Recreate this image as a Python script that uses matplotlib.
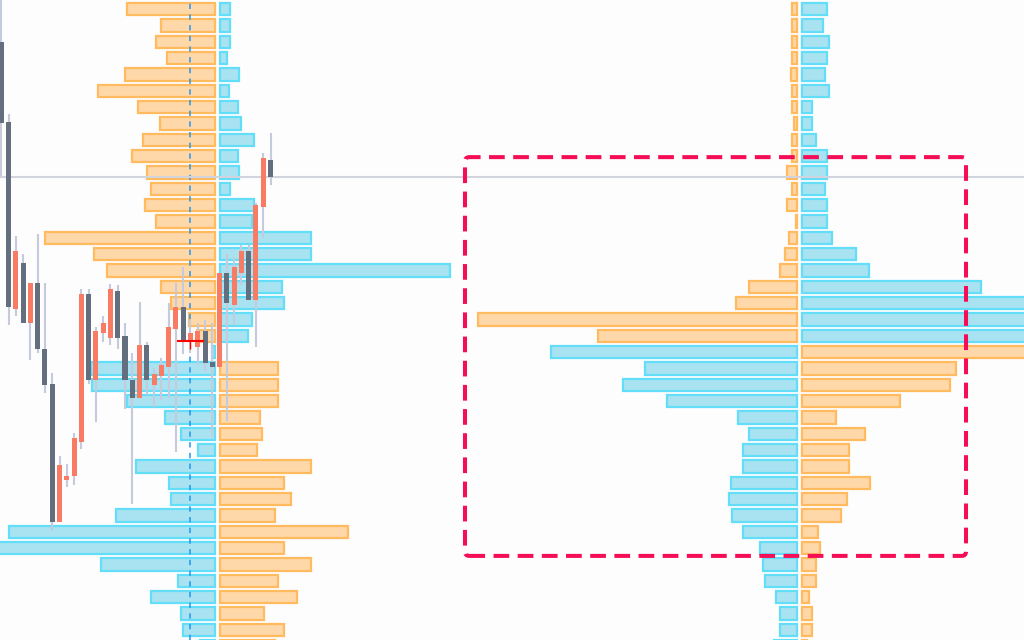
import numpy as np
import matplotlib
matplotlib.use('Agg')
import matplotlib.pyplot as plt
from matplotlib.patches import FancyBboxPatch

# candle data (red = up, gray = down)
opens  = [119.00, 116.55, 110.82, 112.24, 110.39, 111.62, 109.59, 108.52, 104.30, 105.58,
          105.71, 106.75, 111.28, 108.65, 110.08, 109.93, 111.37, 109.99, 108.65, 108.09,
          109.72, 108.49, 108.77, 109.04, 110.21, 110.88, 109.84, 109.66, 110.15, 109.20,
          109.04, 111.92, 110.94, 111.92, 112.60, 111.09, 113.94, 115.38]
highs  = [120.59, 116.79, 113.06, 112.50, 111.62, 113.12, 111.62, 108.86, 106.32, 106.07,
          107.02, 111.43, 111.43, 110.27, 110.61, 111.58, 111.55, 110.39, 109.47, 111.03,
          109.81, 109.01, 109.32, 111.00, 111.62, 112.11, 110.48, 110.39, 110.48, 110.39,
          111.92, 112.50, 112.41, 112.78, 112.78, 114.07, 115.60, 116.21]
lows   = [114.89, 110.33, 110.61, 110.39, 109.26, 109.47, 108.25, 104.02, 104.30, 105.37,
          105.43, 106.53, 108.52, 107.36, 109.81, 109.72, 109.59, 107.76, 104.85, 108.09,
          108.19, 107.82, 108.03, 108.09, 106.44, 109.44, 109.47, 109.10, 108.92, 106.90,
          109.04, 107.39, 110.33, 111.55, 111.09, 109.66, 112.99, 114.62]
closes = [116.52, 110.89, 112.61, 110.39, 111.62, 109.59, 108.49, 104.30, 106.04, 105.71,
          106.87, 111.28, 108.65, 110.15, 110.39, 111.43, 109.93, 108.65, 108.09, 109.72,
          108.65, 108.83, 109.10, 110.27, 110.88, 109.87, 110.08, 110.15, 109.17, 109.04,
          111.92, 111.00, 112.11, 112.60, 111.09, 114.00, 115.44, 114.87]

# volume profile rows (price levels, top to bottom)
price_levels = np.arange(120.0, 100.0, -0.5)
split_row = 21  # from this row down, blue sits on the left side

p1_orange = [90, 56, 61, 50, 92, 119, 79, 57, 74, 85, 70, 66, 72, 61, 172, 123, 110, 56, 46, 28, 20,
             0, 60, 60, 60, 42, 44, 39, 93, 66, 73, 57, 130, 66, 93, 60, 79, 46, 66, 57]
p1_blue = [12, 12, 12, 9, 21, 11, 20, 23, 36, 20, 21, 12, 36, 34, 93, 93, 232, 64, 66, 34, 30,
           5, 126, 125, 90, 52, 36, 19, 81, 48, 46, 101, 208, 235, 116, 39, 66, 36, 34, 17]

p2_orange = [7, 7, 7, 7, 8, 7, 7, 5, 7, 7, 12, 7, 12, 3, 10, 14, 19, 50, 63, 321, 201,
             280, 156, 150, 100, 36, 65, 49, 49, 70, 47, 41, 18, 20, 16, 16, 9, 12, 12, 7]
p2_blue = [27, 23, 29, 27, 25, 29, 12, 12, 16, 27, 27, 25, 27, 27, 32, 56, 69, 181, 260, 300, 240,
           248, 154, 176, 132, 61, 50, 56, 56, 68, 70, 67, 56, 39, 36, 34, 23, 19, 19, 25]

marker_bar = 26
marker_price = 109.84

# layout
PX_PER_BAR = 7.276
PX_PER_PRICE = 32.66
p1_anchor = 29.71
p2_anchor = 109.70
highlight_x = (63.73, 132.59)
highlight_y = (103.26, 115.47)

UP = '#FA7B64'
DOWN = '#636E7E'
WICK = '#C5CBDD'
OR_FACE, OR_EDGE = '#FFD8AA', '#FFBB5E'
BL_FACE, BL_EDGE = '#A9E2F0', '#62DEF8'
BG = '#FDFDFE'

fig = plt.figure(figsize=(10.24, 6.4), dpi=100, facecolor=BG)
ax = fig.add_axes([0, 0, 1, 1])
ax.set_facecolor(BG)
ax.axis('off')
ax.set_xlim(-0.179, 140.56)
ax.set_ylim(100.685, 120.281)


def draw_profile(anchor, orange, blue):
    orange = np.array(orange, float)
    blue = np.array(blue, float)
    gap = 2.5 / PX_PER_BAR
    rows = np.arange(len(price_levels))
    upper = rows < split_row
    left_vol = np.where(upper, orange, blue)
    right_vol = np.where(upper, blue, orange)
    left_col = [(OR_FACE, OR_EDGE) if u else (BL_FACE, BL_EDGE) for u in upper]
    right_col = [(BL_FACE, BL_EDGE) if u else (OR_FACE, OR_EDGE) for u in upper]
    for vols, cols, side in [(left_vol, left_col, -1), (right_vol, right_col, 1)]:
        for lvl, v, (fc, ec) in zip(price_levels, vols, cols):
            if v <= 0:
                continue
            w = max(v - 2, 1.0) / PX_PER_BAR
            left = anchor + gap if side > 0 else anchor - gap - w
            ax.barh(lvl, w, left=left, height=0.375, color=fc, edgecolor=ec,
                    linewidth=1.6, zorder=1)


draw_profile(p1_anchor, p1_orange, p1_blue)
draw_profile(p2_anchor, p2_orange, p2_blue)

# blue dashed vertical marker
ax.axvline(marker_bar, color='#2196F3', lw=1.1, linestyle=(0, (3.5, 3.5)), zorder=2)

# last price line
ax.axhline(closes[-1], color='#D1D4DC', lw=1.5, zorder=2.2)

# candles
x = np.arange(len(opens))
o = np.array(opens); c = np.array(closes)
colors = [UP if cc >= oo else DOWN for oo, cc in zip(o, c)]
ax.vlines(x, lows, highs, color=WICK, lw=1.5, zorder=3)
ax.bar(x, np.abs(c - o), bottom=np.minimum(o, c), width=0.69, color=colors,
       linewidth=0, zorder=4)

# red cursor cross
ax.hlines(marker_price, marker_bar - 1.8, marker_bar + 1.8, color='#FF0000', lw=1.5, zorder=5)
ax.vlines(marker_bar, marker_price - 0.25, marker_price + 0.1, color='#FF0000', lw=1.0, zorder=3.5)

# highlight box
box = FancyBboxPatch((highlight_x[0], highlight_y[0]),
                     highlight_x[1] - highlight_x[0], highlight_y[1] - highlight_y[0],
                     boxstyle='round,pad=0,rounding_size=0.6',
                     mutation_aspect=PX_PER_BAR / PX_PER_PRICE,
                     fill=False, edgecolor='#F50D56', linewidth=2.9,
                     linestyle=(0, (3.9, 2.1)), capstyle='butt', zorder=6)
ax.add_patch(box)

fig.savefig('out.png', dpi=100, facecolor=BG)
